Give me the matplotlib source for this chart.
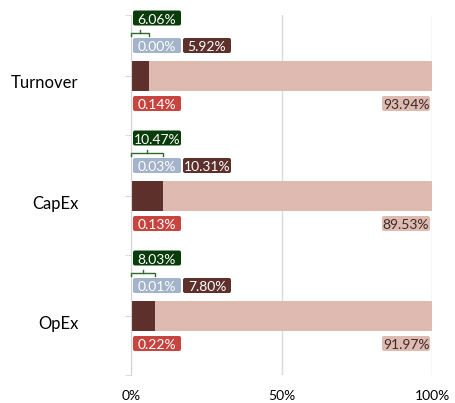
import matplotlib.pyplot as plt
import matplotlib.transforms as mtransforms
from matplotlib.patches import FancyBboxPatch

# Datos (porcentajes)
categorias = ['Turnover', 'CapEx', 'OpEx']
valores_rojo = [0.14, 0.13, 0.22]
valores_gris = [0.00, 0.03, 0.01]
valores_marron = [5.92, 10.31, 7.80]
valores_rosa = [93.94, 89.53, 91.97]
valores_verde = [6.06, 10.47, 8.03]
xticks_vals = [0, 50, 100]
xticks_labels = ['0%', '50%', '100%']

# Colores
C_ROJO = '#c8453f'
C_GRIS = '#a2b3ca'
C_MARRON = '#5d302b'
C_ROSA = '#dfbab1'
C_VERDE = '#0a3b0a'
C_BRACKET = '#2f6a2f'
C_EJE = '#d4d4d4'

plt.rcParams['font.family'] = ['Lato', 'DejaVu Sans']

fig = plt.figure(figsize=(4.56, 4.03), dpi=100)
ax = fig.add_axes([131 / 456, 28 / 403, 301 / 456, 360 / 403])
ax.set_xlim(0, 100)
ax.set_ylim(360, 0)

px = 100 / 301  # unidades x por pixel
banda = 120
centros = [banda * i + 61 for i in range(len(categorias))]

# Barras apiladas
izq = [0] * len(categorias)
for vals, col in [(valores_rojo, C_ROJO), (valores_gris, C_GRIS),
                  (valores_marron, C_MARRON), (valores_rosa, C_ROSA)]:
    ax.barh(centros, vals, left=izq, height=30, color=col, zorder=2)
    izq = [a + b for a, b in zip(izq, vals)]


def etiqueta(x, yc, texto, fc, tc):
    caja = FancyBboxPatch((x, yc - 7.5), 48 * px, 15,
                          boxstyle=f"round,pad=0,rounding_size={2 * px}",
                          mutation_aspect=1 / px, fc=fc, ec='none',
                          clip_on=False, zorder=3)
    ax.add_patch(caja)
    ax.text(x + 24 * px, yc + 0.5, texto, ha='center', va='center_baseline',
            color=tc, fontsize=10, clip_on=False, zorder=4)


for i, c in enumerate(centros):
    top = banda * i
    etiqueta(2 * px, top + 3, f'{valores_verde[i]:.2f}%', C_VERDE, 'white')
    etiqueta(2 * px, top + 30.5, f'{valores_gris[i]:.2f}%', C_GRIS, 'white')
    etiqueta(52 * px, top + 30.5, f'{valores_marron[i]:.2f}%', C_MARRON, 'white')
    etiqueta(2 * px, top + 88.5, f'{valores_rojo[i]:.2f}%', C_ROJO, 'white')
    etiqueta(100 - 50 * px, top + 88.5, f'{valores_rosa[i]:.2f}%', C_ROSA, '#3a2a2a')
    # Corchete sobre rojo + gris + marron
    g = valores_verde[i]
    ax.plot([0, 0, g, g], [top + 21, top + 18, top + 18, top + 21],
            color=C_BRACKET, lw=1, clip_on=False, zorder=3)
    ax.plot([g / 2, g / 2], [top + 18, top + 15],
            color=C_BRACKET, lw=1, clip_on=False, zorder=3)

# Ejes
for s in ['top', 'right', 'bottom']:
    ax.spines[s].set_visible(False)
ax.spines['left'].set_color(C_EJE)
ax.set_yticks(centros)
ax.set_yticklabels(categorias, fontsize=12)
ax.set_yticks([0, 120, 240, 360], minor=True)
ax.tick_params(axis='y', which='both', length=4, color=C_EJE, pad=34)
desplaz = mtransforms.ScaledTranslation(0, -6 / 100, fig.dpi_scale_trans)
for lbl in ax.get_yticklabels():
    lbl.set_transform(lbl.get_transform() + desplaz)

ax.set_xticks(xticks_vals)
ax.set_xticklabels(xticks_labels, fontsize=10)
ax.tick_params(axis='x', length=0, pad=11)
ax.grid(axis='x', color='#d9d9d9', lw=1)
ax.grid(axis='y', visible=False)
ax.set_axisbelow(True)

fig.savefig('out.png', dpi=100)
